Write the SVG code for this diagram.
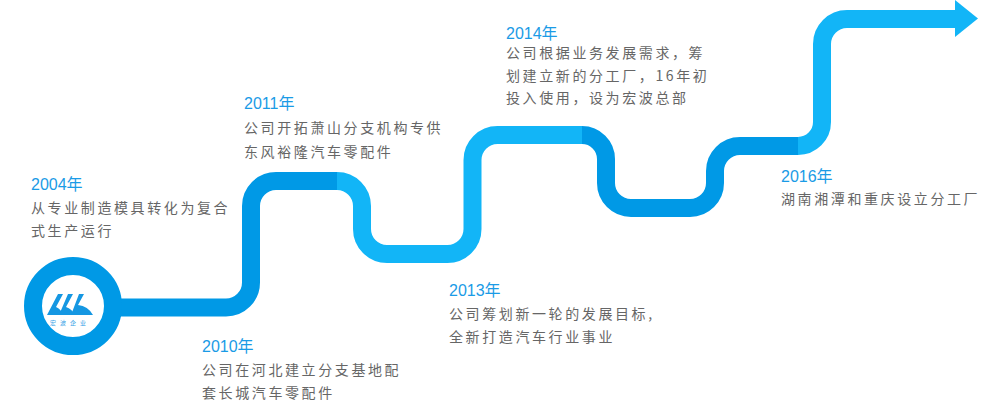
<svg xmlns="http://www.w3.org/2000/svg" width="983" height="405" viewBox="0 0 983 405">
<style>
.p{fill:none;stroke-width:18}
.d{stroke:#0099e6}.l{stroke:#12b5f7}
.y{font-family:"Liberation Sans","Noto Sans CJK SC",sans-serif;font-size:16px;fill:#1a9be6}
.t{font-family:"Noto Sans CJK SC",sans-serif;font-size:14px;fill:#666;letter-spacing:2.6px}
.g{fill:#1597e2}
</style>
<g id="connectors">
<path class="p d" d="M110 307.5H226A25 25 0 0 0 251 282.5V206A25 25 0 0 1 276 181H337"/>
<path class="p l" d="M337 181A25 25 0 0 1 362 206V229A25 25 0 0 0 387 254H447.5A25 25 0 0 0 472.5 229V160A25 25 0 0 1 497.5 135H582"/>
<path class="p d" d="M582 135A24 24 0 0 1 606 159V183A25 25 0 0 0 631 208H690A25 25 0 0 0 715 183V171A25 25 0 0 1 740 146H798"/>
<path class="p l" d="M798 146A24 24 0 0 0 822 122V44A25 25 0 0 1 847 19H957"/>
<polygon points="955,0 978,18.5 955,37" fill="#12b5f7"/>
</g>
<g id="logo">
<circle cx="73" cy="306" r="40" fill="#fff" stroke="#0099e6" stroke-width="18"/>
<path class="g" d="M58 294H63L56 307Q61 309 63 315H47Z"/>
<path class="g" d="M68 294H73L66 307Q72 309 75 315H59Z"/>
<path class="g" d="M79 294H84L78 305Q88 306 93 315H71Z"/>
<text x="70" y="325" text-anchor="middle" font-family="Noto Sans CJK SC,sans-serif" font-size="6" fill="#3aa3e6" letter-spacing="4">宏波企业</text>
</g>
<g id="n2004"><text class="y" x="31" y="190">2004年</text><text class="t" x="31" y="213">从专业制造模具转化为复合</text><text class="t" x="31" y="236">式生产运行</text></g>
<g id="n2010"><text class="y" x="202" y="352">2010年</text><text class="t" x="202" y="375">公司在河北建立分支基地配</text><text class="t" x="202" y="398">套长城汽车零配件</text></g>
<g id="n2011"><text class="y" x="244" y="109">2011年</text><text class="t" x="244" y="133">公司开拓萧山分支机构专供</text><text class="t" x="244" y="157">东风裕隆汽车零配件</text></g>
<g id="n2013"><text class="y" x="449" y="296">2013年</text><text class="t" x="449" y="319">公司筹划新一轮的发展目标,</text><text class="t" x="449" y="342">全新打造汽车行业事业</text></g>
<g id="n2014"><text class="y" x="506" y="39">2014年</text><text class="t" x="506" y="58">公司根据业务发展需求，筹</text><text class="t" x="506" y="81">划建立新的分工厂，16年初</text><text class="t" x="506" y="103">投入使用，设为宏波总部</text></g>
<g id="n2016"><text class="y" x="781" y="182">2016年</text><text class="t" x="781" y="204">湖南湘潭和重庆设立分工厂</text></g>
</svg>
